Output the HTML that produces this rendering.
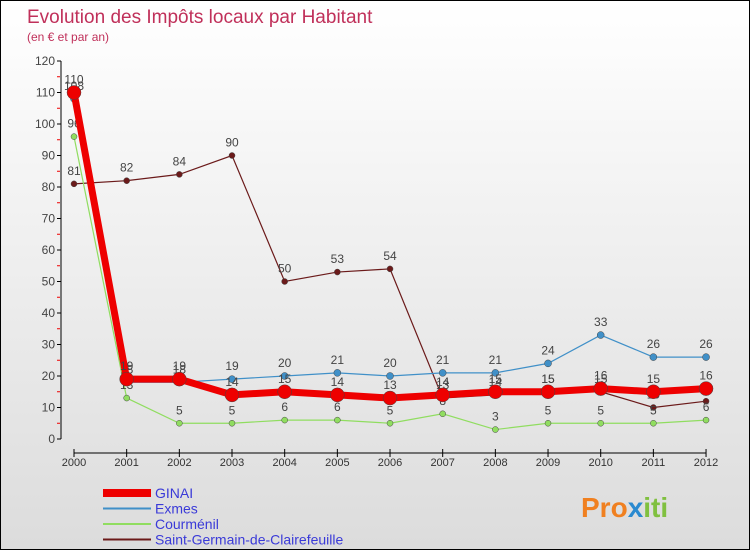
<!DOCTYPE html>
<html><head><meta charset="utf-8"><style>
body{margin:0}
#c{width:748px;height:548px;border:1px solid #000;background:linear-gradient(#fff,#dcdcdc);position:relative;font-family:"Liberation Sans",sans-serif}
</style></head><body>
<div id="c">
<svg width="748" height="548" id="s">
<text x="26" y="22" font-size="19" fill="#c0305a">Evolution des Impôts locaux par Habitant</text>
<text x="26" y="40" font-size="12" fill="#c0305a">(en € et par an)</text>
<g id="axes"></g><g id="series"></g><g id="legend"></g>
<text x="580" y="516" font-size="28" font-weight="bold" fill="#f08020">Pro<tspan fill="#2a8ad0">x</tspan><tspan fill="#80c040">iti</tspan></text>
</svg></div>
<script>
const years=["2000","2001","2002","2003","2004","2005","2006","2007","2008","2009","2010","2011","2012"];
const yTicks=[0,10,20,30,40,50,60,70,80,90,100,110,120];
const ginai=[110,19,19,14,15,14,13,14,15,15,16,15,16];
const exmes=[108,18,18,19,20,21,20,21,21,24,33,26,26];
const courmenil=[96,13,5,5,6,6,5,8,3,5,5,5,6];
const stGermain=[81,82,84,90,50,53,54,13,14,15,15,10,12];
const NS="http://www.w3.org/2000/svg";
const X=i=>73+i*52.67, Y=v=>438-v*3.15;
function mk(t,a,p){const e=document.createElementNS(NS,t);for(const k in a)e.setAttribute(k,a[k]);p.appendChild(e);return e;}
const ax=document.getElementById('axes');
const yl=mk('line',{x1:60,y1:Y(120),x2:60,y2:Y(0),stroke:'#000'},ax);


const xl=mk('line',{x1:X(0),y1:Y(0)+14,x2:X(12),y2:Y(0)+14,stroke:'#000'},ax);


yTicks.forEach(v=>{mk('line',{x1:56,y1:Y(v),x2:60,y2:Y(v),stroke:'#000'},ax);
 if(v<120)mk('line',{x1:56,y1:Y(v+5),x2:59,y2:Y(v+5),stroke:'#e00'},ax);
 const t=mk('text',{x:54,y:Y(v)+4,'font-size':12,fill:'#444','text-anchor':'end'},ax);t.textContent=v;
 
 });
years.forEach((y,i)=>{mk('line',{x1:X(i),y1:Y(0)+10,x2:X(i),y2:Y(0)+18,stroke:'#000'},ax);
 const t=mk('text',{x:X(i),y:Y(0)+27,'font-size':11,fill:'#333','text-anchor':'middle'},ax);t.textContent=y;
 
 });
const sg=document.getElementById('series');
function draw(d,col,w,r,name){const g=mk('g',{},sg);
 
 
 mk('polyline',{points:d.map((v,i)=>X(i)+','+Y(v)).join(' '),fill:'none',stroke:col,'stroke-width':w},g);
 d.forEach((v,i)=>{const c=mk('circle',{cx:X(i),cy:Y(v),r:r,fill:col,stroke:'#444','stroke-width':0.5},g);
  
  
  const t=mk('text',{x:X(i),y:Y(v)-9,'font-size':12,fill:'#444','text-anchor':'middle'},g);t.textContent=v;
  
  });}
draw(stGermain,'#6b1a1a',1.2,3,'saint-germain-series');
draw(courmenil,'#90dd60',1.2,3,'courmenil-series');
draw(exmes,'#4090c8',1.2,3.5,'exmes-series');
draw(ginai,'#ee0000',7,7,'ginai-series');
const lg=document.getElementById('legend');
const items=[["GINAI","#ee0000",8],["Exmes","#4090c8",2],["Courménil","#90dd60",2],["Saint-Germain-de-Clairefeuille","#6b1a1a",2]];
items.forEach((it,k)=>{const y=492+k*15.5;const g=mk('g',{},lg);
 
 
 mk('line',{x1:102,y1:y,x2:150,y2:y,stroke:it[1],'stroke-width':it[2]},g);
 const t=mk('text',{x:154,y:y+5,'font-size':14,fill:'#3a3ad8'},g);t.textContent=it[0];});
</script></body></html>
